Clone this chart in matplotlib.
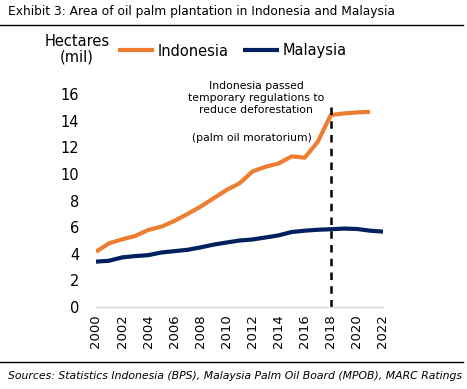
import matplotlib
matplotlib.use("Agg")
import matplotlib.pyplot as plt
from matplotlib.lines import Line2D

# ── Data (million hectares) ─────────────────────────────────────────────────
years_idn = list(range(2000, 2022))
indonesia = [4.16, 4.79, 5.09, 5.34, 5.79, 6.04, 6.47, 6.99, 7.54, 8.17, 8.80,
             9.30, 10.20, 10.55, 10.80, 11.33, 11.23, 12.43, 14.44, 14.56,
             14.64, 14.68]
years_mys = list(range(2000, 2023))
malaysia = [3.41, 3.48, 3.73, 3.83, 3.90, 4.10, 4.20, 4.30, 4.48, 4.69, 4.85,
            5.00, 5.08, 5.23, 5.39, 5.64, 5.74, 5.81, 5.85, 5.90, 5.87, 5.74,
            5.67]
moratorium_year = 2018
moratorium_top = 15.3
xticks = list(range(2000, 2023, 2))
yticks = list(range(0, 17, 2))

ORANGE = "#ED7D31"
NAVY = "#002060"
W, H = 467, 389

plt.rcParams["font.family"] = ["DejaVu Sans"]

fig = plt.figure(figsize=(W / 100, H / 100), dpi=100)
ax = fig.add_axes([96 / W, (H - 307) / H, 287 / W, 226 / H])

ax.plot(years_idn, indonesia, color=ORANGE, lw=3.0, label="Indonesia",
        solid_capstyle="butt")
ax.plot(years_mys, malaysia, color=NAVY, lw=3.0, label="Malaysia",
        solid_capstyle="butt")
ax.plot([moratorium_year, moratorium_year], [0, moratorium_top],
        color="black", lw=1.8, ls=(0, (3, 2.5)))

ax.set_xlim(2000, 2022)
ax.set_ylim(0, 17)
ax.set_xticks(xticks)
ax.set_xticklabels([str(y) for y in xticks], rotation=90, fontsize=9.5)
ax.set_yticks(yticks)
ax.set_yticklabels([str(v) for v in yticks], fontsize=10.5)
ax.tick_params(length=0, pad=5)
ax.tick_params(axis="y", pad=12)
for side in ["top", "right", "left"]:
    ax.spines[side].set_visible(False)
ax.spines["bottom"].set_color("#D9D9D9")
ax.spines["bottom"].set_linewidth(1)

fig.legend(loc="center left", bbox_to_anchor=(118 / W, 1 - 51 / H),
           ncol=2, frameon=False, fontsize=10.5, borderpad=0,
           borderaxespad=0, handlelength=2.5, handletextpad=0.2,
           columnspacing=1.0)

fig.text(77 / W, 1 - 49 / H, "Hectares\n(mil)", ha="center", va="center",
         fontsize=10.5, linespacing=1.0)

fig.text(256 / W, 1 - 98 / H,
         "Indonesia passed\ntemporary regulations to\nreduce deforestation",
         ha="center", va="center", fontsize=7.8, linespacing=1.25)
fig.text(252 / W, 1 - 138 / H, "(palm oil moratorium)", ha="center",
         va="center", fontsize=7.8)

fig.text(8 / W, 1 - 11 / H,
         "Exhibit 3: Area of oil palm plantation in Indonesia and Malaysia",
         ha="left", va="center", fontsize=8.8)
fig.add_artist(Line2D([0, 463 / W], [1 - 25 / H] * 2,
                      transform=fig.transFigure, color="black", lw=1))
fig.add_artist(Line2D([0, 463 / W], [1 - 362 / H] * 2,
                      transform=fig.transFigure, color="black", lw=1))
fig.text(8 / W, 1 - 376 / H,
         "Sources: Statistics Indonesia (BPS), Malaysia Palm Oil Board (MPOB), MARC Ratings",
         ha="left", va="center", fontsize=7.85, style="italic")

fig.savefig("out.png", dpi=100)
